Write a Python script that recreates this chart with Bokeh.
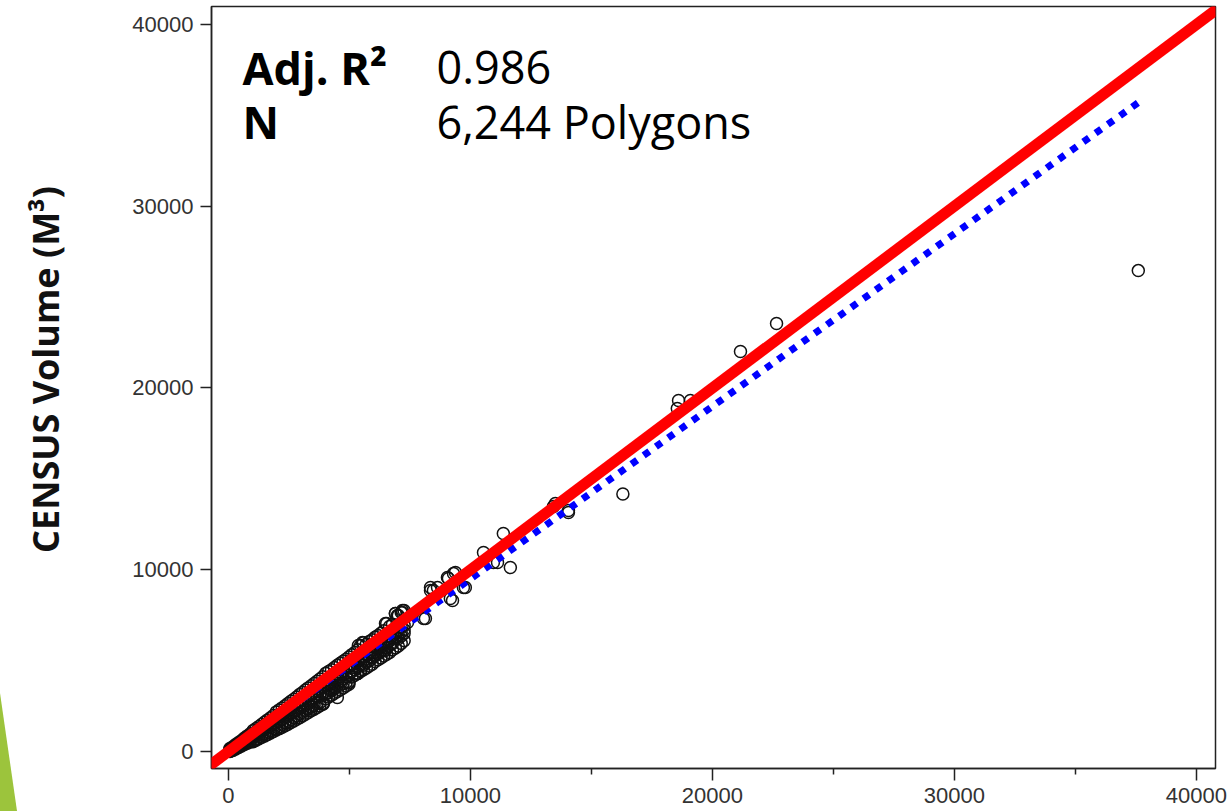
import math
from bokeh.plotting import figure
from bokeh.layouts import row
from bokeh.models import Range1d, FixedTicker, Slope, Label, ColumnDataSource, Div
from bokeh.core.properties import value
from bokeh.embed import file_html
from bokeh.resources import INLINE

# ---- data ----
# dense band of polygons: each x has several readings spread across the band
band_x = [60, 180, 300, 420, 540, 660, 780, 900, 1020, 1140, 1260, 1380, 1500, 1620, 1740, 1860, 1980, 2100,
          2220, 2340, 2460, 2580, 2700, 2820, 2940, 3060, 3180, 3300, 3420, 3540, 3660, 3780, 3900, 4020, 4140,
          4260, 4380, 4500, 4620, 4740, 4860, 4980,
          5100, 5220, 5340, 5460, 5580, 5700, 5820, 5940, 6060, 6180, 6300, 6420, 6540, 6660, 6780, 6900, 7020,
          7140, 7260]
band_y_bottom = [0, 60, 140, 220, 300, 380, 450, 520, 540, 620, 700, 780, 860, 940, 1020, 1100, 1180, 1260,
                 1340, 1420, 1500, 1600, 1680, 1780, 1860, 1960, 2050, 2150, 2250, 2330, 2420, 2520, 2600, 2900,
                 3000, 3100, 3200, 3300, 3400, 3500, 3600, 3700,
                 4100, 4200, 4300, 4400, 4500, 4600, 4700, 4800, 4950, 5050, 5150, 5250, 5350, 5450, 5600, 5700,
                 5800, 5950, 6100]
band_y_low = [20, 110, 200, 280, 380, 450, 540, 620, 580, 700, 800, 900, 980, 1060, 1140, 1220, 1260, 1380,
              1480, 1560, 1640, 1760, 1860, 1960, 2060, 2160, 2260, 2350, 2450, 2540, 2650, 2700, 2640, 3150, 3250,
              3350, 3450, 2970, 3650, 3750, 3800, 3800,
              4400, 4500, 4290, 4460, 4750, 4900, 5000, 5170, 5300, 5400, 5500, 5560, 5700, 5850, 5950, 6270, 6200,
              6350, 6500]
band_y_mid1 = [60, 150, 250, 350, 450, 550, 640, 740, 820, 920, 1020, 1120, 1220, 1320, 1420, 1520, 1600, 1700,
               1800, 1900, 2000, 2100, 2200, 2300, 2400, 2500, 2600, 2700, 2800, 2900, 3000, 3100, 3200, 3300, 3420,
               3540, 3650, 3760, 3880, 4000, 4100, 4200,
               4600, 4700, 4650, 4800, 5000, 5100, 5200, 5350, 5500, 5600, 5700, 5800, 5950, 6100, 6200, 6300, 6420,
               6550, 6700]
band_y_mid2 = [110, 200, 310, 420, 530, 640, 760, 860, 960, 1080, 1190, 1300, 1420, 1530, 1640, 1760, 1870, 1980,
               2100, 2210, 2320, 2440, 2560, 2660, 2780, 2880, 3000, 3110, 3220, 3330, 3450, 3560, 3660, 3780, 3900,
               4000, 4120, 4230, 4350, 4460, 4580, 4700,
               4800, 4920, 5030, 5150, 5250, 5380, 5500, 5620, 5740, 5850, 5980, 6100, 6220, 6350, 6450, 6580, 6700,
               6850, 6950]
band_y_high = [160, 260, 380, 490, 610, 740, 860, 980, 1150, 1260, 1380, 1500, 1620, 1740, 1860, 1980, 2180, 2290,
               2400, 2520, 2640, 2760, 2880, 3000, 3130, 3250, 3380, 3500, 3620, 3740, 3870, 3990, 4110, 4300, 4400,
               4500, 4620, 4740, 4850, 4960, 5080, 5200,
               5330, 5450, 5600, 5830, 5980, 5900, 6050, 6150, 6280, 6380, 6500, 6640, 7040, 6880, 7000, 7590, 7480,
               7650, 7760]

# scattered polygons away from the band
sparse_x = [3390, 3930, 4960, 5330, 5040, 5370, 5540, 5990, 6490, 6490, 6900, 6980, 6980, 7190, 7190, 7400, 8060,
            8140, 8350, 8350, 8470, 8640, 9050, 9090, 9170, 9260, 9300, 9380, 9710, 9790, 10540, 10950, 11120,
            11360, 11650, 13430, 13510, 14050, 14050, 16300, 18550, 18600, 19090, 21160, 22650, 37600]
sparse_y = [2260, 2640, 3800, 4290, 5010, 5830, 6000, 5170, 5560, 7040, 7590, 6270, 7480, 7650, 7760, 7100, 7320,
            7320, 8860, 9020, 8860, 9020, 9570, 9520, 8420, 8310, 9790, 9850, 9020, 9020, 10950, 10400, 10400,
            11990, 10120, 13480, 13650, 13150, 13260, 14170, 18870, 19310, 19310, 22010, 23550, 26460]

fit_x = [0, 37600]
fit_y = [0, 35700]

x_ticks = [0, 10000, 20000, 30000, 40000]
x_minor = [5000, 15000, 25000, 35000]
y_ticks = [0, 10000, 20000, 30000, 40000]

stat_names = ["Adj. R²", "N"]
stat_values = ["0.986", "6,244 Polygons"]
y_label = "CENSUS Volume (M³)"

W, H = 1231, 811
DECO_W = 18
LW = 52
FRAME_LEFT, FRAME_RIGHT_PAD, FRAME_TOP, FRAME_BOTTOM_PAD = 211, 16, 6, 43

# ---- slide decoration: green sliver at the lower left ----
deco = Div(text=('<svg width="%d" height="%d" style="display:block">'
                 '<polygon points="0,693 17,811 0,811" fill="#9CC43C"/></svg>' % (DECO_W, H)),
           width=DECO_W, height=H, margin=0)

# ---- left strip: vertical axis title (frame aligned with the main chart) ----
left = figure(width=LW, height=H, output_backend="svg", toolbar_location=None,
              x_range=Range1d(DECO_W, DECO_W + LW), y_range=Range1d(FRAME_BOTTOM_PAD, H - FRAME_TOP),
              x_axis_location=None, y_axis_location=None,
              min_border_left=0, min_border_right=0, min_border_top=FRAME_TOP, min_border_bottom=FRAME_BOTTOM_PAD)
left.outline_line_color = None
left.xgrid.visible = False
left.ygrid.visible = False
left.background_fill_color = "white"
left.border_fill_color = "white"
left.text(x=[45], y=[H - 369], text=[y_label], angle=math.pi / 2, text_align="center", text_baseline="middle",
          text_font=value("Open Sans"), text_font_style="bold", text_font_size="36px", text_color="#111111")

# ---- main chart ----
p = figure(width=W - DECO_W - LW, height=H, output_backend="svg", toolbar_location=None,
           x_range=Range1d(-700, 40790), y_range=Range1d(-935, 40990),
           min_border_left=FRAME_LEFT - DECO_W - LW, min_border_right=FRAME_RIGHT_PAD,
           min_border_top=FRAME_TOP, min_border_bottom=FRAME_BOTTOM_PAD)
p.xgrid.visible = False
p.ygrid.visible = False
p.outline_line_color = "#222222"
p.outline_line_width = 1.5
p.outline_line_alpha = 1
p.background_fill_color = "white"
p.border_fill_color = "white"

for ax in (p.xaxis[0], p.yaxis[0]):
    ax.axis_line_color = "#222222"
    ax.axis_line_width = 1.5
    ax.major_tick_line_color = "#222222"
    ax.major_tick_line_width = 1.5
    ax.minor_tick_line_color = "#222222"
    ax.minor_tick_line_width = 1.5
    ax.major_tick_in = 0
    ax.minor_tick_in = 0
    ax.major_label_text_font = "Liberation Sans"
    ax.major_label_text_font_size = "22px"
    ax.major_label_text_color = "#333333"

p.xaxis.ticker = FixedTicker(ticks=x_ticks, minor_ticks=x_minor)
p.yaxis.ticker = FixedTicker(ticks=y_ticks, minor_ticks=[])
p.xaxis.major_tick_out = 12
p.xaxis.minor_tick_out = 6
p.xaxis.major_label_standoff = 7
p.yaxis.major_tick_out = 11
p.yaxis.major_label_standoff = 7

pts_x = band_x * 5 + sparse_x
pts_y = band_y_bottom + band_y_low + band_y_mid1 + band_y_mid2 + band_y_high + sparse_y
src = ColumnDataSource(dict(x=pts_x, y=pts_y))
p.scatter("x", "y", source=src, marker="circle", size=12, fill_alpha=0,
          line_color="#111111", line_width=1.5)

p.line(fit_x, fit_y, line_color="#0000FF", line_width=7, line_dash="7 8", line_cap="butt")

p.add_layout(Slope(gradient=1, y_intercept=0, line_color="#FF0000", line_width=11))

row_y = [37640, 34660]
for i in range(2):
    p.add_layout(Label(x=579, y=row_y[i], text=stat_names[i], text_font="Open Sans",
                       text_font_style="bold", text_font_size="45px", text_color="#000000",
                       text_baseline="alphabetic"))
    p.add_layout(Label(x=8595, y=row_y[i], text=stat_values[i], text_font="Open Sans",
                       text_font_size="45px", text_color="#000000", text_baseline="alphabetic"))

layout = row(deco, left, p, spacing=0)
open("out.html", "w").write(file_html(layout, INLINE))
